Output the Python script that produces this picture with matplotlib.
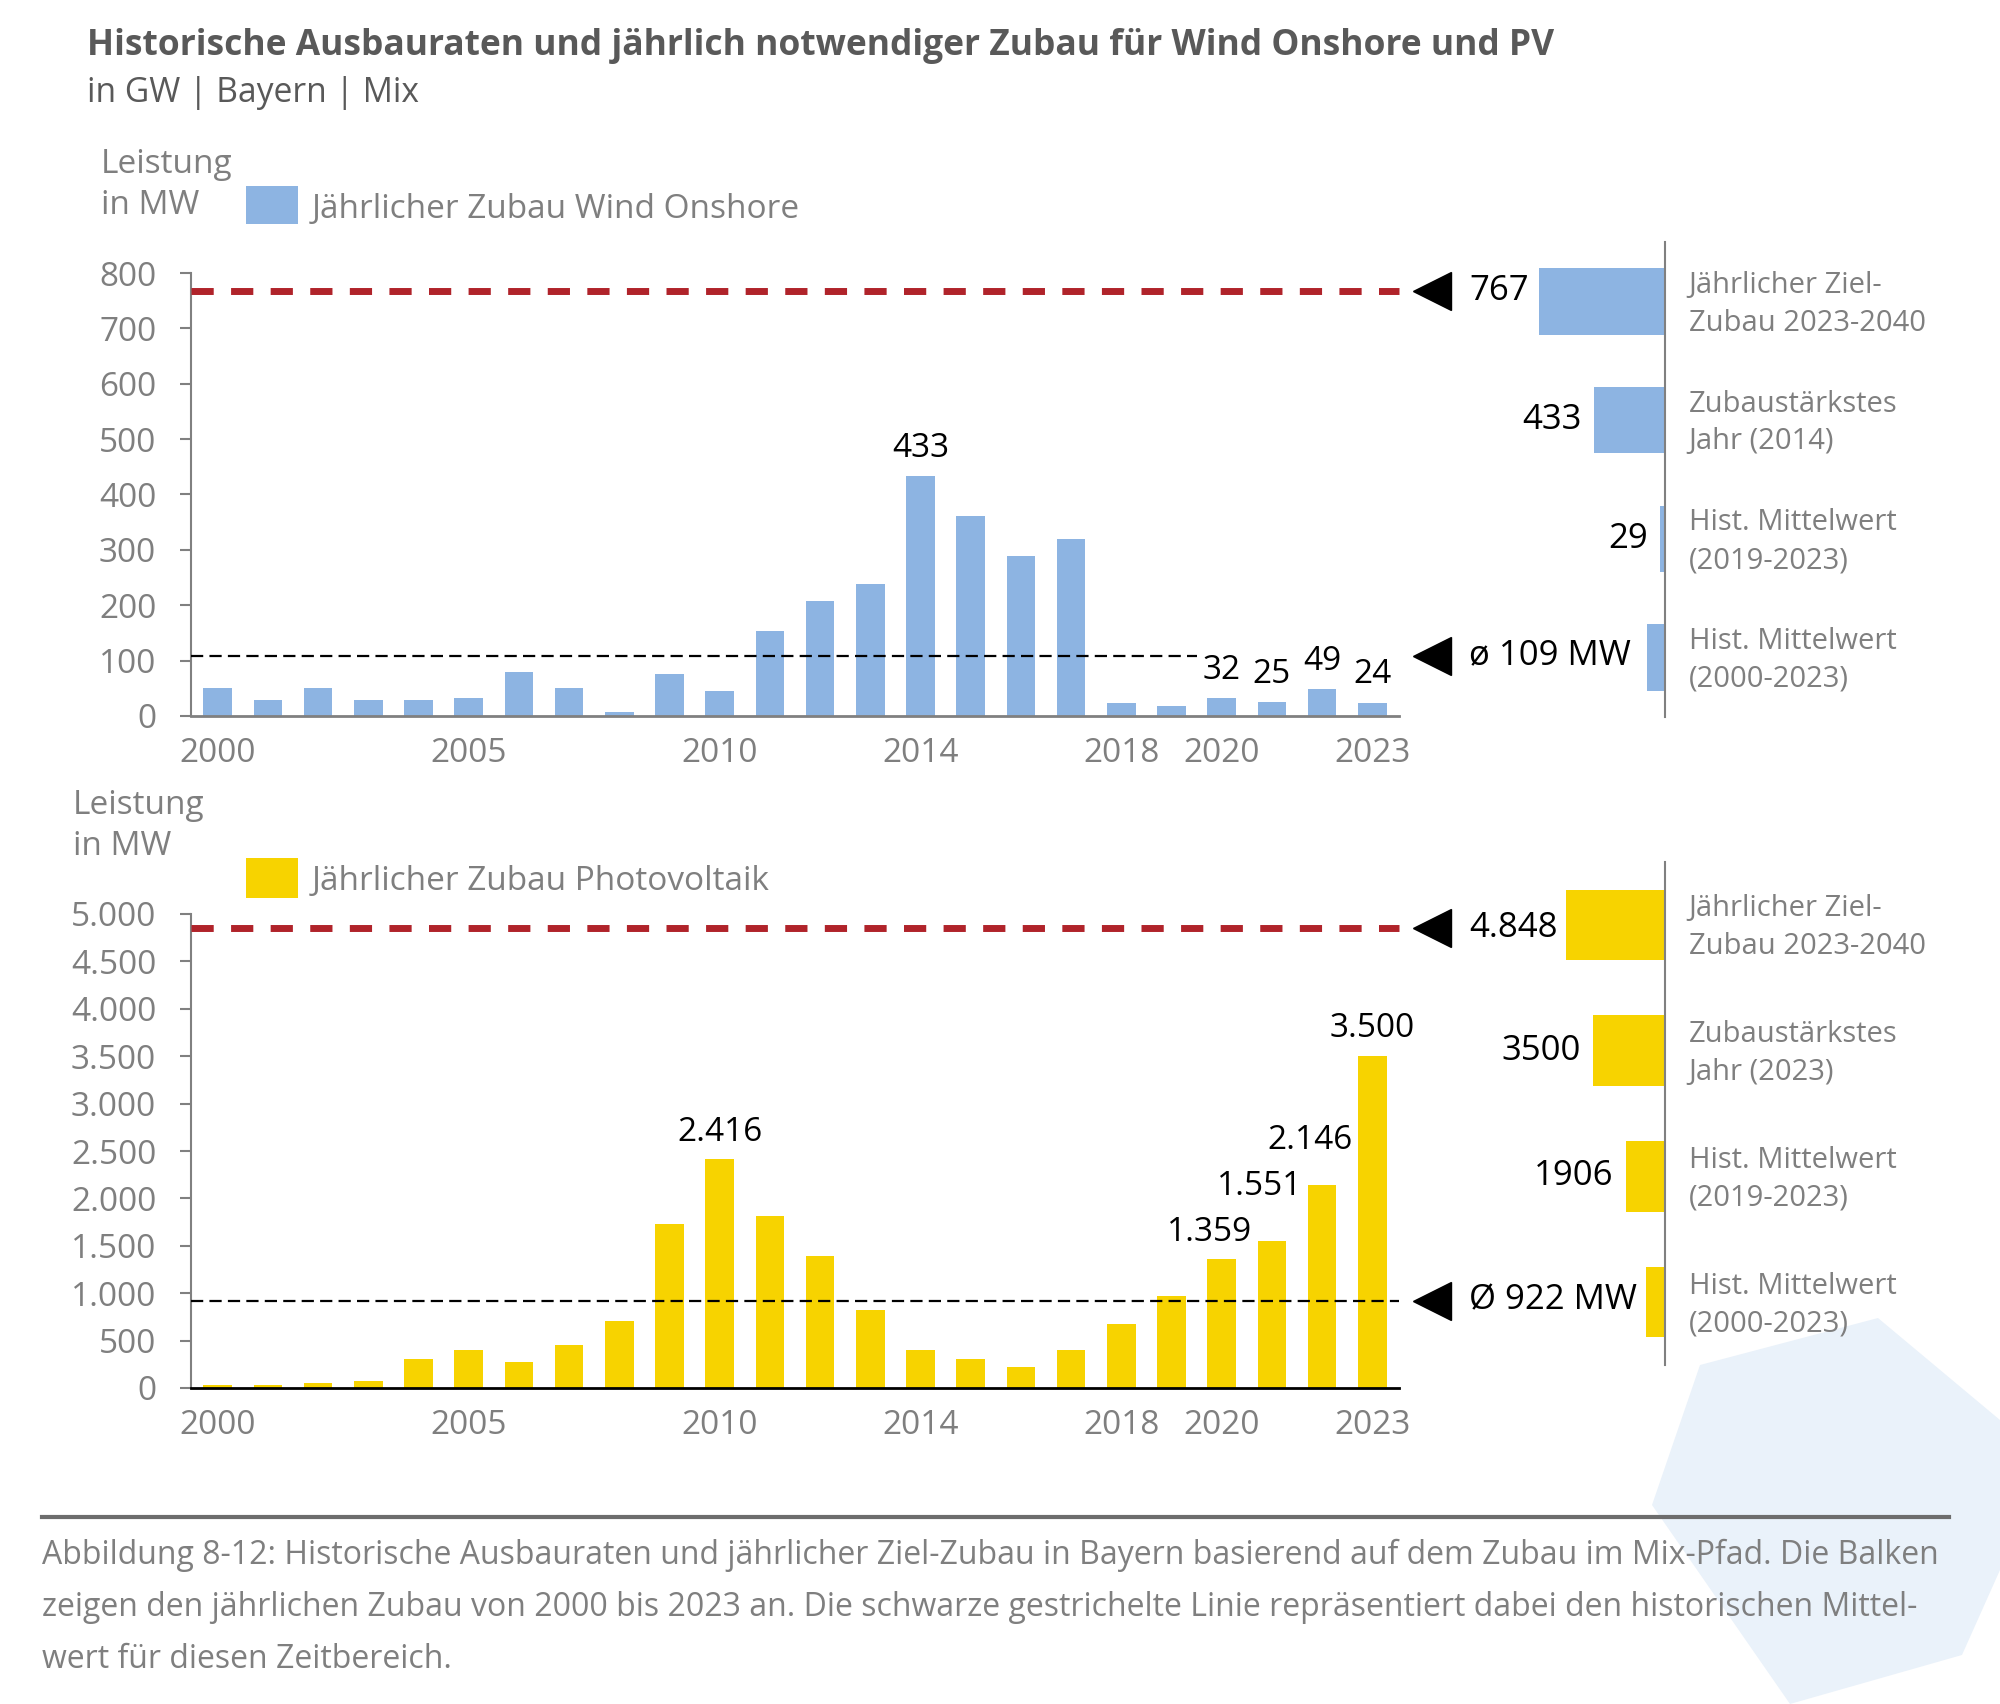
import numpy as np
import matplotlib.pyplot as plt
from matplotlib.patches import Polygon, Rectangle

plt.rcParams['font.family'] = ['Open Sans', 'DejaVu Sans']

# data
years = np.arange(2000, 2024)
wind = [50, 29, 50, 29, 29, 32, 80, 50, 8, 76, 46, 153, 208, 238, 433, 362,
        289, 319, 24, 18, 32, 25, 49, 24]
pv = [27, 27, 50, 77, 303, 399, 269, 449, 702, 1727, 2416, 1819, 1397, 821,
      399, 303, 223, 399, 672, 974, 1359, 1551, 2146, 3500]
year_ticks = [2000, 2005, 2010, 2014, 2018, 2020, 2023]

wind_target, wind_mean = 767, 109
pv_target, pv_mean = 4848, 922

wind_side = [767, 433, 29, 109]
pv_side = [4848, 3500, 1906, 922]
wind_side_text = ['Jährlicher Ziel-\nZubau 2023-2040', 'Zubaustärkstes\nJahr (2014)',
                  'Hist. Mittelwert\n(2019-2023)', 'Hist. Mittelwert\n(2000-2023)']
pv_side_text = ['Jährlicher Ziel-\nZubau 2023-2040', 'Zubaustärkstes\nJahr (2023)',
                'Hist. Mittelwert\n(2019-2023)', 'Hist. Mittelwert\n(2000-2023)']

# bar labels: year, text, offset in points (dx, dy)
wind_labels = [(2014, '433', 0, 20), (2020, '32', 0, 20), (2021, '25', 0, 20),
               (2022, '49', 0, 20), (2023, '24', 0, 20)]
pv_labels = [(2010, '2.416', 0, 19), (2020, '1.359', -9, 19), (2021, '1.551', -9, 39),
             (2022, '2.146', -9, 32), (2023, '3.500', 0, 20)]

BLUE = '#8DB4E2'
YELLOW = '#F7D300'
RED = '#B0232A'
GRAY = '#7F7F7F'
DARK = '#595959'

W, H = 2000, 1704


def box(x0, y0, x1, y1):
    return [x0 / W, 1 - y1 / H, (x1 - x0) / W, (y1 - y0) / H]


fig = plt.figure(figsize=(20, 17.04), dpi=100)

# light background shape in the lower right corner
shape = [(1700, 1365), (1878, 1318), (2000, 1420), (2000, 1570), (1962, 1655),
         (1790, 1704), (1652, 1505)]
fig.patches.append(Polygon([(x / W, 1 - y / H) for x, y in shape], closed=True,
                           transform=fig.transFigure, facecolor='#EAF2FA',
                           edgecolor='none', zorder=-1))


def main_panel(ax, values, color, ymax, step, fmt, target, mean, mean_end,
               labels, bottom_color, target_text, mean_text):
    ax.bar(years, values, width=0.57, color=color, zorder=2)
    ax.set_xlim(1999.47, 2023.53)
    ax.set_ylim(0, ymax)
    ticks = np.arange(0, ymax + 1, step)
    ax.set_yticks(ticks)
    ax.set_yticklabels([fmt(t) for t in ticks])
    ax.set_xticks(year_ticks)
    ax.set_xticklabels([str(y) for y in year_ticks])
    for s in ['top', 'right']:
        ax.spines[s].set_visible(False)
    ax.spines['left'].set_color('#808080')
    ax.spines['left'].set_linewidth(1.5)
    ax.spines['bottom'].set_color(bottom_color)
    ax.spines['bottom'].set_linewidth(2)
    ax.tick_params(axis='y', length=8, width=1.5, color='#808080', pad=17,
                   labelsize=24, labelcolor=GRAY)
    ax.tick_params(axis='x', length=0, pad=15, labelsize=24, labelcolor=GRAY)
    ax.set_facecolor('none')

    ax.plot([1999.47, 2023.53], [target, target], color=RED, lw=5,
            dashes=(3.2, 2.5), zorder=3, solid_capstyle='butt', clip_on=False)
    ax.plot([1999.47, mean_end], [mean, mean], color='black', lw=1.6,
            dashes=(5.5, 2.8), zorder=3)

    for yr, txt, dx, dy in labels:
        ax.annotate(txt, (yr, values[yr - 2000]), xytext=(dx, dy),
                    textcoords='offset points', ha='center', va='center',
                    fontsize=24, color='black')

    tr = ax.get_yaxis_transform()
    for val, txt in [(target, target_text), (mean, mean_text)]:
        ax.plot([1.0277], [val], marker='<', ms=28, color='black',
                transform=tr, clip_on=False)
        ax.text(1.058, val, txt, transform=tr, ha='left', va='center',
                fontsize=25, color='black')


def side_panel(ax, values, color, xmax, texts, value_texts):
    pos = np.arange(4)
    ax.barh(pos, values, height=0.56, color=color)
    ax.set_xlim(xmax, 0)
    ax.set_ylim(3.5, -0.5)
    for s in ['top', 'left', 'bottom']:
        ax.spines[s].set_visible(False)
    ax.spines['right'].set_color('#808080')
    ax.spines['right'].set_linewidth(1.5)
    ax.set_xticks([])
    ax.set_yticks([])
    ax.set_facecolor('none')
    for p, v, t in zip(pos, values, value_texts):
        if t:
            ax.annotate(t, (v, p), xytext=(-9, 0), textcoords='offset points',
                        ha='right', va='center', fontsize=25, color='black')
    for p, t in zip(pos, texts):
        ax.annotate(t, (0, p), xytext=(17, -2), textcoords='offset points',
                    ha='left', va='center', fontsize=21, color=GRAY,
                    linespacing=1.4)


ax1 = fig.add_axes(box(191, 273, 1399, 716))
main_panel(ax1, wind, BLUE, 800, 100, lambda t: '%d' % t, wind_target, wind_mean,
           2019.5, wind_labels, '#808080', '767', 'ø 109 MW')

ax2 = fig.add_axes(box(191, 914, 1399, 1388))
main_panel(ax2, pv, YELLOW, 5000, 500, lambda t: '{:,}'.format(int(t)).replace(',', '.'),
           pv_target, pv_mean, 2023.53, pv_labels, 'black', '4.848', 'Ø 922 MW')

ax3 = fig.add_axes(box(1420, 242, 1665, 717))
side_panel(ax3, wind_side, BLUE, 245 / 0.1645, wind_side_text, [None, '433', '29', None])

ax4 = fig.add_axes(box(1420, 862, 1665, 1365))
side_panel(ax4, pv_side, YELLOW, 245 / 0.0205, pv_side_text, [None, '3500', '1906', None])

# titles and axis captions
fig.text(87 / W, 1 - 46 / H, 'Historische Ausbauraten und jährlich notwendiger Zubau für Wind Onshore und PV',
         fontsize=25.5, fontweight='bold', color=DARK, va='center')
fig.text(87 / W, 1 - 93 / H, 'in GW | Bayern | Mix', fontsize=24.2, color=DARK, va='center')

fig.text(101 / W, 1 - 185 / H, 'Leistung\nin MW', fontsize=24, color=GRAY, va='center',
         linespacing=1.3)
fig.text(73 / W, 1 - 826 / H, 'Leistung\nin MW', fontsize=24, color=GRAY, va='center',
         linespacing=1.3)

fig.patches.append(Rectangle((246 / W, 1 - 224 / H), 52 / W, 38 / H, transform=fig.transFigure,
                             facecolor=BLUE, edgecolor='none'))
fig.text(312 / W, 1 - 209 / H, 'Jährlicher Zubau Wind Onshore', fontsize=24, color=GRAY, va='center')
fig.patches.append(Rectangle((246 / W, 1 - 898 / H), 52 / W, 40 / H, transform=fig.transFigure,
                             facecolor=YELLOW, edgecolor='none'))
fig.text(312 / W, 1 - 881 / H, 'Jährlicher Zubau Photovoltaik', fontsize=24, color=GRAY, va='center')

# rule and caption
fig.add_artist(plt.Line2D([42 / W, 1949 / W], [1 - 1517 / H, 1 - 1517 / H], color='#6D6D6D', lw=3))
caption = ['Abbildung 8-12: Historische Ausbauraten und jährlicher Ziel-Zubau in Bayern basierend auf dem Zubau im Mix-Pfad. Die Balken',
           'zeigen den jährlichen Zubau von 2000 bis 2023 an. Die schwarze gestrichelte Linie repräsentiert dabei den historischen Mittel-',
           'wert für diesen Zeitbereich.']
for i, line in enumerate(caption):
    fig.text(42 / W, 1 - (1555 + 52.5 * i) / H, line, fontsize=23, color=GRAY, va='center')

fig.savefig('out.png', dpi=100)
